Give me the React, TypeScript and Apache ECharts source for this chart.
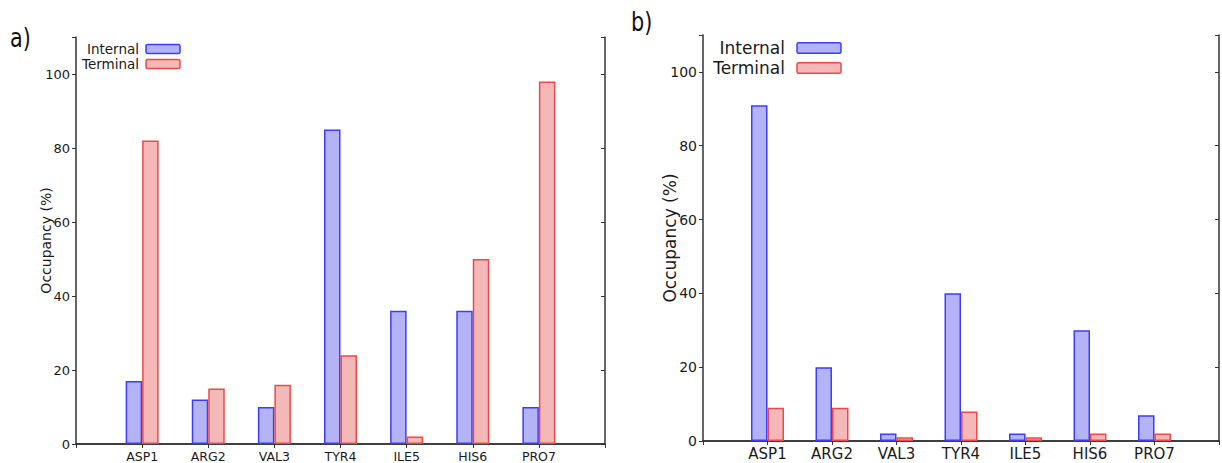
import React, { useEffect, useRef } from "react";
import * as echarts from "echarts";

const categories = ["ASP1", "ARG2", "VAL3", "TYR4", "ILE5", "HIS6", "PRO7"];
const internalA = [17, 12, 10, 85, 36, 36, 10];
const terminalA = [82, 15, 16, 24, 2, 50, 98];
const internalB = [91, 20, 2, 40, 2, 30, 7];
const terminalB = [9, 9, 1, 8, 1, 2, 2];
const seriesNames = ["Internal", "Terminal"];
const yMin = 0;
const yMax = 110;
const yInterval = 20;

const FONT = "'DejaVu Sans', Verdana, sans-serif";
const INT_FILL = "#b3b3f6";
const INT_EDGE = "#3d3dff";
const TER_FILL = "#f4b8b8";
const TER_EDGE = "#ee4848";
const FRAME = "#333333";
const TEXT = "#1a1a1a";

const padded = ["", ...categories, ""];
const pad = (arr: number[]) => [null, ...arr, null];

export default function App() {
  const ref = useRef<HTMLDivElement>(null);
  useEffect(() => {
    if (!ref.current) return;
    const chart = echarts.init(ref.current, null, { renderer: "svg" });

    const makeX = (gridIndex: number, fs: number, margin: number) => [
      {
        type: "category",
        gridIndex,
        data: padded,
        boundaryGap: false,
        position: "bottom",
        axisLine: { show: true, lineStyle: { color: FRAME, width: 1.5 } },
        axisTick: { show: false },
        axisLabel: { interval: 0, fontSize: fs, color: TEXT, fontFamily: FONT, margin },
        splitLine: { show: false },
      },
      {
        type: "category",
        gridIndex,
        data: padded,
        boundaryGap: false,
        position: "top",
        axisLine: { show: true, lineStyle: { color: FRAME, width: 1.5 } },
        axisTick: { show: true, inside: true, length: 4, interval: 0, lineStyle: { color: FRAME } },
        axisLabel: { show: false },
        splitLine: { show: false },
      },
    ];

    const makeY = (gridIndex: number, fs: number, nameFs: number, nameGap: number) => [
      {
        type: "value",
        gridIndex,
        min: yMin,
        max: yMax,
        interval: yInterval,
        position: "left",
        name: "Occupancy (%)",
        nameLocation: "middle",
        nameGap,
        nameMoveOverlap: false,
        nameTextStyle: { fontSize: nameFs, color: TEXT, fontFamily: FONT },
        axisLine: { show: true, lineStyle: { color: FRAME, width: 1.5 } },
        axisTick: { show: true, inside: false, length: 4, lineStyle: { color: FRAME } },
        axisLabel: {
          fontSize: fs,
          color: TEXT,
          fontFamily: FONT,
          margin: 6,
          formatter: (v: number) => (v > 100 ? "" : String(v)),
        },
        splitLine: { show: false },
      },
      {
        type: "value",
        gridIndex,
        min: yMin,
        max: yMax,
        interval: yInterval,
        position: "right",
        axisLine: { show: true, lineStyle: { color: FRAME, width: 1.5 } },
        axisTick: { show: true, inside: true, length: 4, lineStyle: { color: FRAME } },
        axisLabel: { show: false },
        splitLine: { show: false },
      },
    ];

    const barSeries = (name: string, data: number[], xi: number, yi: number, fill: string, edge: string) => ({
      type: "bar",
      name,
      xAxisIndex: xi,
      yAxisIndex: yi,
      data: pad(data),
      barWidth: 16.5,
      barGap: "0%",
      itemStyle: { color: fill, borderColor: edge, borderWidth: 1.5 },
      emphasis: { disabled: true },
    });

    const legend = (tx: number, bx: number, bw: number, bh: number, y1: number, y2: number, fs: number) => {
      const rows = [
        { name: seriesNames[0], y: y1, fill: INT_FILL, edge: INT_EDGE },
        { name: seriesNames[1], y: y2, fill: TER_FILL, edge: TER_EDGE },
      ];
      const out: any[] = [];
      rows.forEach((r) => {
        out.push({
          type: "text",
          x: tx,
          y: r.y,
          style: { text: r.name, fontSize: fs, fontFamily: FONT, fill: TEXT, align: "right", verticalAlign: "middle" },
        });
        out.push({
          type: "rect",
          shape: { x: bx, y: r.y - bh / 2, width: bw, height: bh, r: 1.5 },
          style: { fill: r.fill, stroke: r.edge, lineWidth: 1.5 },
        });
      });
      return out;
    };

    chart.setOption({
      animation: false,
      backgroundColor: "#ffffff",
      grid: [
        { left: 76, top: 37, width: 529, height: 407, show: false },
        { left: 703, top: 35, width: 529, height: 406, show: false },
      ],
      xAxis: [...makeX(0, 12.5, 6), ...makeX(1, 15, 5)],
      yAxis: [...makeY(0, 13, 14, 23), ...makeY(1, 14, 17, 25)],
      series: [
        barSeries(seriesNames[0], internalA, 0, 0, INT_FILL, INT_EDGE),
        barSeries(seriesNames[1], terminalA, 0, 0, TER_FILL, TER_EDGE),
        barSeries(seriesNames[0], internalB, 2, 2, INT_FILL, INT_EDGE),
        barSeries(seriesNames[1], terminalB, 2, 2, TER_FILL, TER_EDGE),
      ],
      graphic: [
        ...legend(139, 146, 34, 9, 49, 64, 13.5),
        ...legend(785, 797, 44, 10.5, 48, 68, 17),
        {
          type: "text",
          x: 10,
          y: 38,
          scaleX: 0.8,
          style: { text: "a)", fontSize: 26, fontFamily: FONT, fill: "#111", verticalAlign: "middle" },
        },
        {
          type: "text",
          x: 631,
          y: 22,
          scaleX: 0.8,
          style: { text: "b)", fontSize: 26, fontFamily: FONT, fill: "#111", verticalAlign: "middle" },
        },
      ],
    });
    return () => chart.dispose();
  }, []);
  return (
    <div
      ref={ref}
      style={{ position: "fixed", left: 0, top: 0, width: 1222, height: 463, background: "#fff" }}
    />
  );
}
